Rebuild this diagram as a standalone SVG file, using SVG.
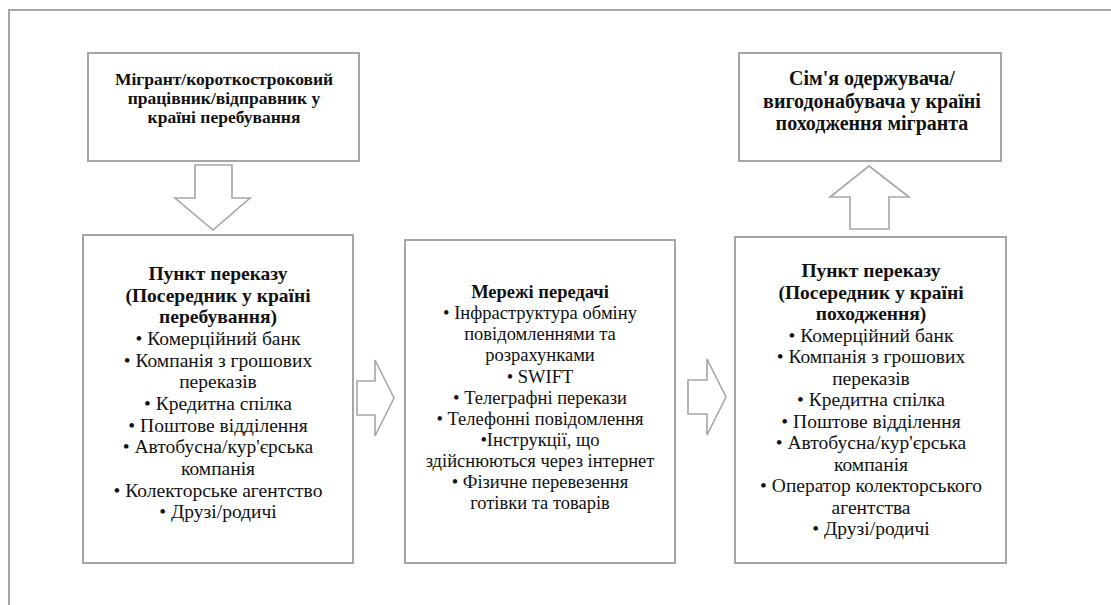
<svg xmlns="http://www.w3.org/2000/svg" width="1111" height="605" viewBox="0 0 1111 605">
<style>
.box{fill:#fff;stroke:#a6a6a6;stroke-width:2}
.arr{fill:#fff;stroke:#a6a6a6;stroke-width:1.6;stroke-linejoin:miter}
text{font-family:"Liberation Serif","Times New Roman",serif;font-size:19.5px;fill:#111;text-anchor:middle}
.b{font-weight:bold}
.t1{font-size:17.5px}
.t2{font-size:20px}
.m{font-size:18.5px}
</style>
<rect x="0" y="0" width="1111" height="605" fill="#fff"/>
<rect x="9" y="10" width="1200" height="700" fill="none" stroke="#a6a6a6" stroke-width="2"/>
<g id="sender">
<rect class="box" x="88" y="53" width="271" height="108"/>
<text class="b t1" x="224" y="85">Мігрант/короткостроковий</text>
<text class="b t1" x="224" y="104">працівник/відправник у</text>
<text class="b t1" x="224" y="123">країні перебування</text>
</g>
<g id="recipient">
<rect class="box" x="739" y="53" width="262" height="108"/>
<text class="b t2" x="872" y="85">Сім'я одержувача/</text>
<text class="b t2" x="872" y="108">вигодонабувача у країні</text>
<text class="b t2" x="872" y="130">походження мігранта</text>
</g>
<g id="point-host">
<rect class="box" x="83" y="235" width="270" height="328"/>
<text class="b" x="218" y="280">Пункт переказу</text>
<text class="b" x="218" y="302">(Посередник у країні</text>
<text class="b" x="218" y="323">перебування)</text>
<text x="218" y="345">• Комерційний банк</text>
<text x="218" y="367">• Компанія з грошових</text>
<text x="218" y="388">переказів</text>
<text x="218" y="410">• Кредитна спілка</text>
<text x="218" y="432">• Поштове відділення</text>
<text x="218" y="453">• Автобусна/кур'єрська</text>
<text x="218" y="475">компанія</text>
<text x="218" y="497">• Колекторське агентство</text>
<text x="218" y="518">• Друзі/родичі</text>
</g>
<g id="networks">
<rect class="box" x="405" y="240" width="270" height="323"/>
<text class="b m" x="540" y="298">Мережі передачі</text>
<text class="m" x="540" y="319">• Інфраструктура обміну</text>
<text class="m" x="540" y="340">повідомленнями та</text>
<text class="m" x="540" y="361">розрахунками</text>
<text class="m" x="540" y="383">• SWIFT</text>
<text class="m" x="540" y="404">• Телеграфні перекази</text>
<text class="m" x="540" y="425">• Телефонні повідомлення</text>
<text class="m" x="540" y="446">•Інструкції, що</text>
<text class="m" x="540" y="467">здійснюються через інтернет</text>
<text class="m" x="540" y="488">• Фізичне перевезення</text>
<text class="m" x="540" y="509">готівки та товарів</text>
</g>
<g id="point-origin">
<rect class="box" x="735" y="237" width="271" height="326"/>
<text class="b" x="871" y="277">Пункт переказу</text>
<text class="b" x="871" y="299">(Посередник у країні</text>
<text class="b" x="871" y="320">походження)</text>
<text x="871" y="342">• Комерційний банк</text>
<text x="871" y="363">• Компанія з грошових</text>
<text x="871" y="385">переказів</text>
<text x="871" y="406">• Кредитна спілка</text>
<text x="871" y="428">• Поштове відділення</text>
<text x="871" y="449">• Автобусна/кур'єрська</text>
<text x="871" y="471">компанія</text>
<text x="871" y="492">• Оператор колекторського</text>
<text x="871" y="514">агентства</text>
<text x="871" y="535">• Друзі/родичі</text>
</g>
<g id="connectors">
<polygon class="arr" points="195,165 232,165 232,198 250,198 213,230 175,198 195,198"/>
<polygon class="arr" points="869,166 909,197 889,197 889,229 850,229 850,197 830,197"/>
<polygon class="arr" points="357,381 375,381 375,360 394,398 375,436 375,415 357,415"/>
<polygon class="arr" points="688,380 707,380 707,359 726,397 707,435 707,414 688,414"/>
</g>
</svg>
